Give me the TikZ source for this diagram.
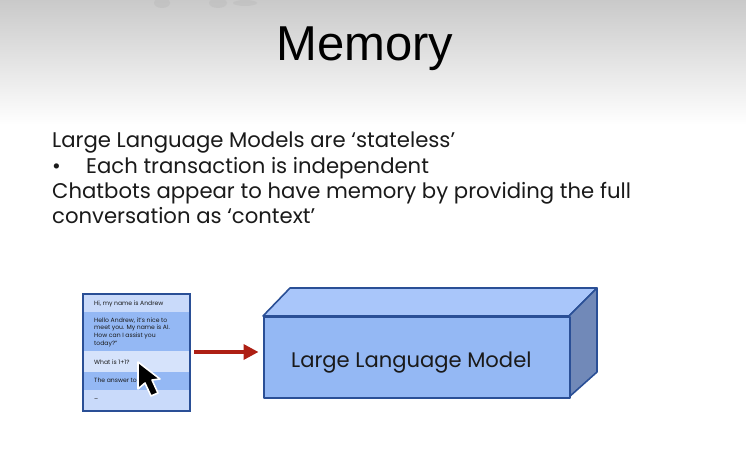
\documentclass[tikz,border=0pt]{standalone}
\usepackage{fontspec}
\setmainfont{Poppins}
\newfontfamily\titlefont{Liberation Sans}
\definecolor{boxedge}{HTML}{2A4F96}
\definecolor{front}{HTML}{94B8F4}
\definecolor{topface}{HTML}{A9C6FA}
\definecolor{sideface}{HTML}{7189B8}
\definecolor{rowlight}{HTML}{C9DAFA}
\definecolor{rowdark}{HTML}{94B8F4}
\definecolor{arrowred}{HTML}{AE1F14}
\definecolor{ink}{HTML}{1A1A1A}
\usetikzlibrary{arrows.meta}
\tikzset{
  face/.style={draw=boxedge,line width=1.6pt,line join=round},
  bodytext/.style={anchor=base west,inner sep=0pt,font=\fontsize{21.2}{24}\selectfont,text=ink},
  rowtext/.style={anchor=base west,inner sep=0pt,font=\fontsize{6.1}{7.2}\selectfont,text=ink,align=left},
}
\begin{document}
\begin{tikzpicture}[x=1pt,y=-1pt]
\useasboundingbox (0,0) rectangle (746,454);
\fill[white] (0,0) rectangle (746,454);
\shade[top color=black!21,bottom color=white] (0,0) rectangle (746,125);
\fill[black!27,opacity=.45] (162,3) ellipse (8 and 5) (218,3) ellipse (9 and 5) (245,3) ellipse (12 and 3);
\node[anchor=base,inner sep=0pt,font=\titlefont\fontsize{49}{54}\selectfont,text=black] (title) at (365,61) {Memory};
\node[bodytext] (l1) at (52,148) {Large Language Models are ‘stateless’};
\node[bodytext] (l2a) at (52,174) {•};
\node[bodytext] (l2) at (86,174) {Each transaction is independent};
\node[bodytext] (l3) at (52,199) {Chatbots appear to have memory by providing the full};
\node[bodytext] (l4) at (52,223) {conversation as ‘context’};
% chat panel
\fill[rowlight] (83,294) rectangle (190,312);
\fill[rowdark] (83,312) rectangle (190,351);
\fill[rowlight!75!white] (83,351) rectangle (190,372);
\fill[rowdark] (83,372) rectangle (190,390);
\fill[rowlight] (83,390) rectangle (190,411);
\draw[boxedge,line width=1.6pt] (83,294) rectangle (190,411);
\node[rowtext] (r1) at (94,305) {Hi, my name is Andrew};
\node[rowtext] (r2) at (94,322) {Hello Andrew, it’s nice to};
\node[rowtext] (r2b) at (94,329) {meet you. My name is AI.};
\node[rowtext] (r2c) at (94,337) {How can I assist you};
\node[rowtext] (r2d) at (94,345) {today?”};
\node[rowtext] (r3) at (94,364) {What is 1+1?};
\node[rowtext] (r4) at (94,382) {The answer to};
\node[rowtext] (r5) at (94,401) {--};
% cube
\filldraw[face,fill=topface] (263,316) -- (290,288) -- (597,288) -- (569,316) -- cycle;
\filldraw[face,fill=sideface] (569,316) -- (597,288) -- (597,372) -- (569,397) -- cycle;
\node[face,fill=front,minimum width=306pt,minimum height=81pt,inner sep=0pt,anchor=north west] (llm) at (263,316) {};
\node[anchor=base west,inner sep=0pt,font=\fontsize{21.1}{24}\selectfont,text=ink] (llmt) at (291,367) {Large Language Model};
% arrow
\coordinate (a0) at (194,352);
\draw[arrowred,line width=3.5pt,-{Triangle[length=15pt,width=15pt]}] (a0) -- ([xshift=-4.5pt]llm.west |- a0);
% cursor
\filldraw[black,draw=white,line width=1.6pt,line join=round]
 (138,362) -- (138,389) -- (145,383) -- (151,396) -- (158,393) -- (152,380) -- (160,379) -- cycle;
\end{tikzpicture}
\end{document}
